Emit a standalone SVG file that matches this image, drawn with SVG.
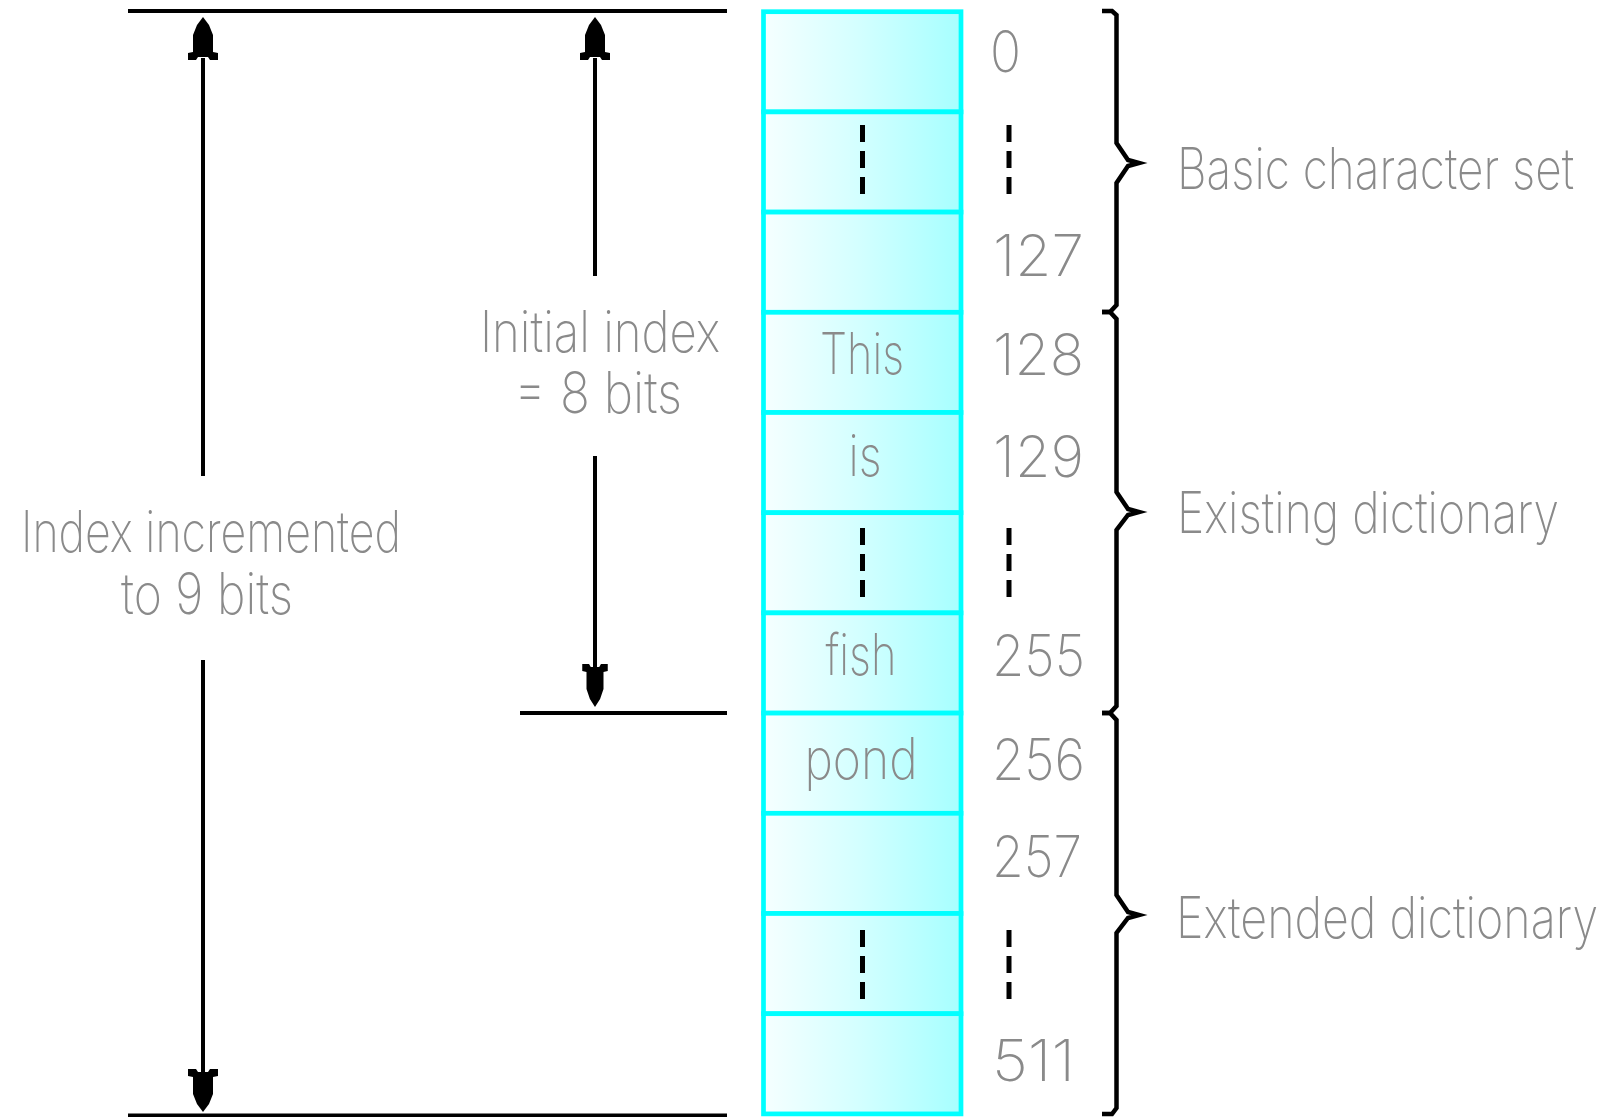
<svg xmlns="http://www.w3.org/2000/svg" width="1615" height="1117" viewBox="0 0 1615 1117">
  <style>
    .lbl { font-family: "Inter", "Lato", "Liberation Sans", sans-serif; font-weight: 200; font-size: 57px; fill: #8a8a8a; }
    .mid { text-anchor: middle; }
    .cell { fill: url(#cellFill); stroke: #00ffff; stroke-width: 4.7; }
    .rule { stroke: #000; stroke-width: 4; fill: none; }
    .dash { stroke: #000; stroke-width: 5; stroke-dasharray: 17 9; fill: none; }
    .brace { stroke: #000; stroke-width: 4.5; fill: none; stroke-linejoin: miter; }
    .head { fill: #000; }
  </style>
  <defs>
    <linearGradient id="cellFill" gradientUnits="userSpaceOnUse" x1="763" y1="0" x2="961" y2="0">
      <stop offset="0" stop-color="#f6ffff"/>
      <stop offset="0.5" stop-color="#d2ffff"/>
      <stop offset="1" stop-color="#a6ffff"/>
    </linearGradient>
    <!-- arrowhead pointing up, tip at the origin, barbed base -->
    <path id="headUp" class="head" d="M0,0 L6,8 L10,18 L10,35 L15,36 L15,43 L7,43 L5,40 L-5,40 L-7,43 L-15,43 L-15,36 L-10,35 L-10,18 L-6,8 Z"/>
  </defs>

  <!-- dictionary table: one cell per index -->
  <g id="table">
    <g id="cell-0"><rect class="cell" x="763.5" y="11.7" width="197.5" height="100.2"/></g>
    <g id="cell-1"><rect class="cell" x="763.5" y="111.9" width="197.5" height="100.2"/></g>
    <g id="cell-2"><rect class="cell" x="763.5" y="212.1" width="197.5" height="100.2"/></g>
    <g id="cell-3"><rect class="cell" x="763.5" y="312.3" width="197.5" height="100.2"/></g>
    <g id="cell-4"><rect class="cell" x="763.5" y="412.5" width="197.5" height="100.2"/></g>
    <g id="cell-5"><rect class="cell" x="763.5" y="512.7" width="197.5" height="100.2"/></g>
    <g id="cell-6"><rect class="cell" x="763.5" y="612.9" width="197.5" height="100.2"/></g>
    <g id="cell-7"><rect class="cell" x="763.5" y="713.1" width="197.5" height="100.2"/></g>
    <g id="cell-8"><rect class="cell" x="763.5" y="813.3" width="197.5" height="100.2"/></g>
    <g id="cell-9"><rect class="cell" x="763.5" y="913.5" width="197.5" height="100.2"/></g>
    <g id="cell-10"><rect class="cell" x="763.5" y="1013.7" width="197.5" height="100.2"/></g>
  </g>

  <!-- cell contents -->
  <g id="entries">
    <line class="dash" x1="862.5" y1="125" x2="862.5" y2="194"/>
    <text class="lbl mid" x="862" y="374" textLength="84" lengthAdjust="spacingAndGlyphs">This</text>
    <text class="lbl mid" x="865" y="476" textLength="33" lengthAdjust="spacingAndGlyphs">is</text>
    <line class="dash" x1="862.5" y1="528" x2="862.5" y2="597"/>
    <text class="lbl mid" x="861" y="675" textLength="71" lengthAdjust="spacingAndGlyphs">fish</text>
    <text class="lbl mid" x="861" y="779" textLength="113" lengthAdjust="spacingAndGlyphs">pond</text>
    <line class="dash" x1="862.5" y1="930" x2="862.5" y2="999"/>
  </g>

  <!-- index numbers -->
  <g id="indices">
    <text class="lbl" x="990" y="72" textLength="31" lengthAdjust="spacingAndGlyphs">0</text>
    <line class="dash" x1="1009" y1="125" x2="1009" y2="194"/>
    <text class="lbl" x="993" y="276" textLength="91" lengthAdjust="spacingAndGlyphs">127</text>
    <text class="lbl" x="993" y="375" textLength="91" lengthAdjust="spacingAndGlyphs">128</text>
    <text class="lbl" x="993" y="477" textLength="91" lengthAdjust="spacingAndGlyphs">129</text>
    <line class="dash" x1="1009" y1="528" x2="1009" y2="597"/>
    <text class="lbl" x="992" y="676" textLength="93" lengthAdjust="spacingAndGlyphs">255</text>
    <text class="lbl" x="992" y="780" textLength="93" lengthAdjust="spacingAndGlyphs">256</text>
    <text class="lbl" x="992" y="877" textLength="90" lengthAdjust="spacingAndGlyphs">257</text>
    <line class="dash" x1="1009" y1="930" x2="1009" y2="999"/>
    <text class="lbl" x="992" y="1081" textLength="83" lengthAdjust="spacingAndGlyphs">511</text>
  </g>

  <!-- range braces with their labels -->
  <g id="brace-basic">
    <path class="brace" d="M1102,11 L1112,11 L1116.5,15 L1116.5,143 L1128,160 L1139,163 L1128,166 L1116.5,183 L1116.5,305 L1110,312 L1102,312"/>
    <text class="lbl" x="1177" y="189" textLength="397" lengthAdjust="spacingAndGlyphs">Basic character set</text>
  </g>
  <g id="brace-existing">
    <path class="brace" d="M1102,312 L1110,312 L1116.5,319 L1116.5,492 L1128,509 L1139,512 L1128,515 L1116.5,530 L1116.5,706 L1110,713 L1102,713"/>
    <text class="lbl" x="1177" y="533" textLength="382" lengthAdjust="spacingAndGlyphs">Existing dictionary</text>
  </g>
  <g id="brace-extended">
    <path class="brace" d="M1102,713 L1110,713 L1116.5,720 L1116.5,895 L1128,912 L1139,915 L1128,918 L1116.5,933 L1116.5,1108 L1112,1114 L1102,1114"/>
    <text class="lbl" x="1176" y="938" textLength="422" lengthAdjust="spacingAndGlyphs">Extended dictionary</text>
  </g>

  <!-- extent rules and dimension arrows -->
  <g id="connectors">
    <line class="rule" x1="128" y1="11" x2="727" y2="11"/>
    <line class="rule" x1="520" y1="713" x2="727" y2="713"/>
    <line class="rule" x1="128" y1="1115.5" x2="727" y2="1115.5" stroke-width="3"/>

    <line class="rule" x1="203" y1="58" x2="203" y2="476"/>
    <line class="rule" x1="203" y1="660" x2="203" y2="1072"/>
    <use href="#headUp" transform="translate(203,17)"/>
    <use href="#headUp" transform="translate(203,1112) scale(1,-1)"/>

    <line class="rule" x1="595" y1="58" x2="595" y2="276"/>
    <line class="rule" x1="595" y1="456" x2="595" y2="667"/>
    <use href="#headUp" transform="translate(595,17)"/>
    <use href="#headUp" transform="translate(595,707) scale(0.85,-1)"/>
  </g>

  <g id="arrow-labels">
    <text class="lbl" x="21" y="552" textLength="380" lengthAdjust="spacingAndGlyphs">Index incremented</text>
    <text class="lbl" x="121" y="614" textLength="172" lengthAdjust="spacingAndGlyphs">to 9 bits</text>
    <text class="lbl" x="480" y="352" textLength="240" lengthAdjust="spacingAndGlyphs">Initial index</text>
    <text class="lbl" x="514" y="413" textLength="168" lengthAdjust="spacingAndGlyphs">= 8 bits</text>
  </g>
</svg>
